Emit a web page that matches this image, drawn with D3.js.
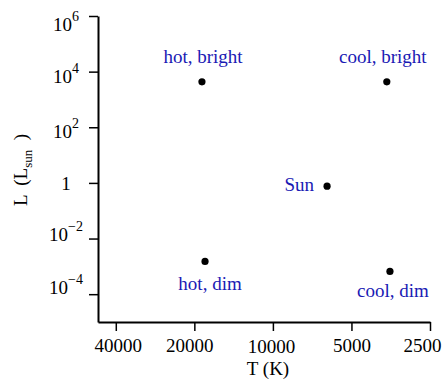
<!DOCTYPE html>
<html>
<head>
<meta charset="utf-8">
<script src="https://cdn.jsdelivr.net/npm/d3@7"></script>
<style>
  body { margin: 0; background: #fff; }
  svg { display: block; font-family: "Liberation Serif", "Times New Roman", serif; }
</style>
</head>
<body>
<figure id="hr" style="margin:0"></figure>
<script>
// star data
const names = ["hot, bright", "cool, bright", "Sun", "hot, dim", "cool, dim"];
const temps = [18700, 3660, 6200, 18200, 3560];
const lums = [4300, 4300, 0.76, 1.5e-3, 6.6e-4];

const xTicks = [40000, 20000, 10000, 5000, 2500];
const yTicks = [1e6, 1e4, 1e2, 1, 1e-2, 1e-4];
const yTickExp = ["6", "4", "2", null, "\u22122", "\u22124"];

// label placement (style only)
const labelAnchor = ["middle", "middle", "end", "middle", "middle"];
const labelDx = [1, -4, -13, 5, 3];
const labelDy = [-19, -19, 5, 29, 26];
const yLabelDy = [14, 11, 10, 7, 2, -1];
const xLabelDx = [2, -5, -2, 0, -8];
const xLabelDy = [0, 0, 1, 0, 0];

const w = 445, h = 379;
const svg = d3.select("figure#hr").append("svg")
  .attr("width", w).attr("height", h);

const x = d3.scaleLog().domain([46800, 2500]).range([98, 430]);
const y = d3.scaleLog().domain([1e-5, 1e6]).range([322, 16]);

// x axis
const gx = svg.append("g")
  .attr("transform", "translate(0," + y(1e-5) + ")")
  .call(d3.axisBottom(x).tickValues(xTicks).tickSize(9).tickSizeOuter(0)
    .tickFormat(d3.format("d")));
gx.select(".domain").attr("stroke-width", 2);
gx.selectAll(".tick line").attr("stroke-width", 1.5);
gx.selectAll(".tick text")
  .attr("x", (d, i) => xLabelDx[i])
  .attr("y", (d, i) => 30 + xLabelDy[i]).attr("dy", 0)
  .attr("font-size", "19px").attr("fill", "#000")
  .attr("font-family", "Liberation Serif, serif");

// y axis
const gy = svg.append("g")
  .attr("transform", "translate(" + x(46800) + ",0)")
  .call(d3.axisLeft(y).tickValues(yTicks).tickSize(9).tickSizeOuter(0)
    .tickFormat(""));
gy.select(".domain").attr("stroke-width", 2);
gy.selectAll(".tick line").attr("stroke-width", 1.5);
gy.selectAll(".tick text").remove();
gy.selectAll(".tick").each(function(d, i) {
  const t = d3.select(this).append("text")
    .attr("x", -32).attr("y", yLabelDy[i])
    .attr("text-anchor", "middle")
    .attr("font-size", "19px").attr("fill", "#000")
    .attr("font-family", "Liberation Serif, serif");
  if (yTickExp[i] === null) {
    t.text("1");
  } else {
    t.append("tspan").text("10");
    t.append("tspan").attr("dy", -10).attr("font-size", "14px").text(yTickExp[i]);
  }
});

// axis titles
svg.append("text")
  .attr("x", 268).attr("y", 375)
  .attr("text-anchor", "middle")
  .attr("font-size", "19px")
  .text("T (K)");

const yt = svg.append("text")
  .attr("transform", "translate(27,170) rotate(-90)")
  .attr("text-anchor", "middle")
  .attr("font-size", "19px")
  .attr("xml:space", "preserve");
yt.append("tspan").text("L  (L");
yt.append("tspan").attr("dy", 5).attr("font-size", "13px").text("sun");
yt.append("tspan").attr("dy", -5).text("  )");

// stars
const stars = names.map((n, i) => ({ name: n, t: temps[i], l: lums[i], i: i }));

svg.append("g").selectAll("circle")
  .data(stars).enter().append("circle")
  .attr("cx", d => x(d.t))
  .attr("cy", d => y(d.l))
  .attr("r", 3.6)
  .attr("fill", "#000");

svg.append("g").selectAll("text")
  .data(stars).enter().append("text")
  .attr("x", d => x(d.t) + labelDx[d.i])
  .attr("y", d => y(d.l) + labelDy[d.i])
  .attr("text-anchor", d => labelAnchor[d.i])
  .attr("font-size", "19px")
  .attr("fill", "#1a1ab4")
  .text(d => d.name);
</script>
</body>
</html>
